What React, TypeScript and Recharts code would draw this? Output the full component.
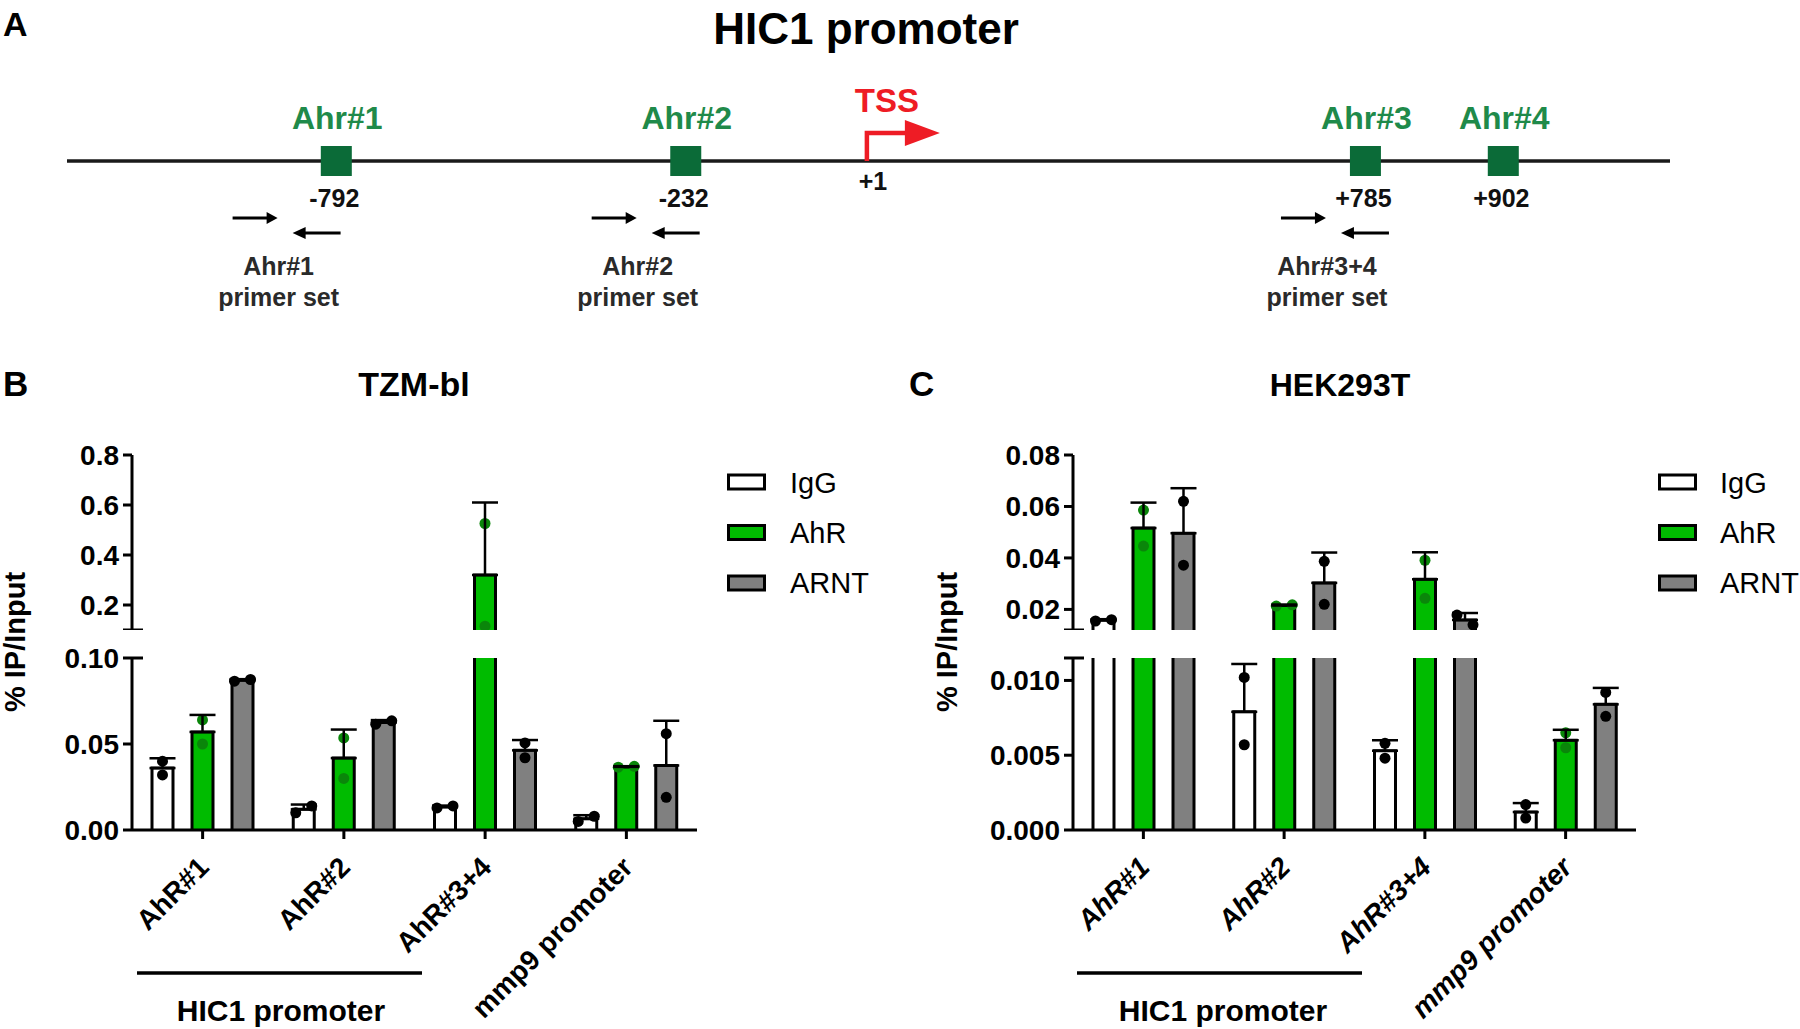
import React from 'react';
import {
  BarChart,
  Bar,
  XAxis,
  YAxis,
  ErrorBar,
  ScatterChart,
  Scatter,
  ReferenceLine,
} from 'recharts';

// ---------- panel A : HIC1 promoter map ----------
const siteNames = ['Ahr#1', 'Ahr#2', 'Ahr#3', 'Ahr#4'];
const siteLabels = ['-792', '-232', '+785', '+902'];
// where each element sits along the drawn line (line runs 0..1000, drawing is not to scale)
const siteTrack = [168, 386, 810, 896];
const tssTrack = [499];
const primerNames = ['Ahr#1', 'Ahr#2', 'Ahr#3+4'];
const primerTrack = [132, 356, 786];

// ---------- panels B / C : ChIP-qPCR ----------
const categories = ['AhR#1', 'AhR#2', 'AhR#3+4', 'mmp9 promoter'];
const seriesNames = ['IgG', 'AhR', 'ARNT'];

// TZM-bl (% IP/Input)
const tzmIgGMean = [0.036, 0.012, 0.0134, 0.0065];
const tzmIgGSd = [0.0057, 0.0028, 0.0008, 0.0021];
const tzmIgGRep1 = [0.04, 0.01, 0.0128, 0.005];
const tzmIgGRep2 = [0.032, 0.014, 0.014, 0.008];
const tzmAhRMean = [0.057, 0.0418, 0.32, 0.0367];
const tzmAhRSd = [0.0099, 0.0166, 0.29, 0.0004];
const tzmAhRRep1 = [0.064, 0.0535, 0.526, 0.0365];
const tzmAhRRep2 = [0.05, 0.03, 0.115, 0.037];
const tzmARNTMean = [0.087, 0.0625, 0.0463, 0.0375];
const tzmARNTSd = [0.0007, 0.0014, 0.006, 0.026];
const tzmARNTRep1 = [0.0865, 0.0615, 0.0506, 0.056];
const tzmARNTRep2 = [0.0875, 0.0635, 0.042, 0.019];

// HEK293T (% IP/Input)
const hekIgGMean = [0.0158, 0.0079, 0.0053, 0.0012];
const hekIgGSd = [0.0004, 0.0032, 0.0007, 0.0006];
const hekIgGRep1 = [0.0155, 0.0102, 0.0058, 0.0017];
const hekIgGRep2 = [0.016, 0.0057, 0.0048, 0.0008];
const hekAhRMean = [0.0516, 0.0215, 0.0317, 0.006];
const hekAhRSd = [0.0099, 0.0004, 0.0105, 0.0007];
const hekAhRRep1 = [0.0586, 0.0213, 0.0391, 0.0065];
const hekAhRRep2 = [0.0446, 0.0218, 0.0243, 0.0055];
const hekARNTMean = [0.0496, 0.0303, 0.0159, 0.0084];
const hekARNTSd = [0.0175, 0.0118, 0.0027, 0.0011];
const hekARNTRep1 = [0.062, 0.0387, 0.0178, 0.0092];
const hekARNTRep2 = [0.0372, 0.022, 0.014, 0.0076];

type Series = { mean: number[]; sd: number[]; rep1: number[]; rep2: number[] };

const tzm: Record<string, Series> = {
  IgG: { mean: tzmIgGMean, sd: tzmIgGSd, rep1: tzmIgGRep1, rep2: tzmIgGRep2 },
  AhR: { mean: tzmAhRMean, sd: tzmAhRSd, rep1: tzmAhRRep1, rep2: tzmAhRRep2 },
  ARNT: { mean: tzmARNTMean, sd: tzmARNTSd, rep1: tzmARNTRep1, rep2: tzmARNTRep2 },
};
const hek: Record<string, Series> = {
  IgG: { mean: hekIgGMean, sd: hekIgGSd, rep1: hekIgGRep1, rep2: hekIgGRep2 },
  AhR: { mean: hekAhRMean, sd: hekAhRSd, rep1: hekAhRRep1, rep2: hekAhRRep2 },
  ARNT: { mean: hekARNTMean, sd: hekARNTSd, rep1: hekARNTRep1, rep2: hekARNTRep2 },
};

const FONT = '"Liberation Sans", Arial, Helvetica, sans-serif';
const GREEN = '#00bb00';
const GRAY = '#808080';
const seriesFill: Record<string, string> = { IgG: '#ffffff', AhR: GREEN, ARNT: GRAY };
const dotFill: Record<string, string> = { IgG: '#000000', AhR: '#0a860a', ARNT: '#000000' };

// rows for one segment of a broken axis: values outside the segment are dropped
function buildRows(d: Record<string, Series>, lo: number, hi: number, isTop: boolean) {
  return categories.map((cat, i) => {
    const row: any = { cat };
    seriesNames.forEach((s) => {
      const m = d[s].mean[i];
      const inSeg = isTop ? m > lo : true;
      row[s] = inSeg ? m : null;
      row[`${s}_err`] = inSeg && m <= hi ? [0, d[s].sd[i]] : null;
      const r1 = d[s].rep1[i];
      const r2 = d[s].rep2[i];
      row[`${s}_r1`] = r1 > lo && r1 <= hi ? r1 : isTop || r1 > hi ? null : r1;
      row[`${s}_r2`] = r2 > lo && r2 <= hi ? r2 : isTop || r2 > hi ? null : r2;
    });
    return row;
  });
}

const openBar = (key: string) => (props: any) => {
  const { x, y, width, height, payload } = props;
  if (!payload || payload[key] == null || !isFinite(y) || !(height > 0)) return <g />;
  return (
    <g>
      <rect x={x} y={y} width={width} height={height} fill={seriesFill[key]} />
      <path
        d={`M${x},${y + height}V${y}H${x + width}V${y + height}`}
        fill="none"
        stroke="#000"
        strokeWidth={3}
      />
    </g>
  );
};

const repDot = (s: string, rep: number, ppu: number) => (props: any) => {
  const { x, y, width, payload } = props;
  const v = payload ? payload[`${s}_r${rep}`] : null;
  if (v == null || !isFinite(y)) return <g />;
  const other = payload[`${s}_r${rep === 1 ? 2 : 1}`];
  let dx = 0;
  if (other != null && Math.abs(v - other) * ppu < 11) dx = rep === 1 ? -8 : 8;
  return <circle cx={x + width / 2 + dx} cy={y} r={5.5} fill={dotFill[s]} />;
};

const yTick = (decimals: number, breakVal: number, labelBreak: boolean) => (props: any) => {
  const { x, y, payload } = props;
  const v = payload.value as number;
  const axisX = x + 13;
  const isBreak = Math.abs(v - breakVal) < 1e-9;
  return (
    <g>
      <line x1={axisX - 9} x2={isBreak ? axisX + 11 : axisX} y1={y} y2={y} stroke="#000" strokeWidth={3} />
      {(!isBreak || labelBreak) && (
        <text x={x} y={y + 10} textAnchor="end" fontSize={28} fontWeight="bold" fill="#000" fontFamily={FONT}>
          {v.toFixed(decimals)}
        </text>
      )}
    </g>
  );
};

const catTick = (italic: boolean) => (props: any) => {
  const { x, y, payload } = props;
  return (
    <text
      transform={`translate(${x + 8},${y + 28}) rotate(-45)`}
      textAnchor="end"
      fontSize={28}
      fontWeight="bold"
      fontStyle={italic ? 'italic' : 'normal'}
      fill="#000"
      fontFamily={FONT}
    >
      {payload.value}
    </text>
  );
};

const Y_W = 100;
const M_TOP = 15;

interface HalfProps {
  d: Record<string, Series>;
  domain: [number, number];
  ticks: number[];
  decimals: number;
  isTop: boolean;
  plotLeft: number;
  plotWidth: number;
  plotTop: number;
  plotHeight: number;
  italic?: boolean;
}

const HalfChart: React.FC<HalfProps> = ({
  d,
  domain,
  ticks,
  decimals,
  isTop,
  plotLeft,
  plotWidth,
  plotTop,
  plotHeight,
  italic = false,
}) => {
  const rows = buildRows(d, domain[0], domain[1], isTop);
  const ppu = plotHeight / (domain[1] - domain[0]);
  const xHeight = isTop ? 0 : 200;
  const breakVal = isTop ? domain[0] : domain[1];
  const labelBreak = !isTop && ticks.filter((t) => t === domain[1]).length > 0 && decimals === 2;
  return (
    <div style={{ position: 'absolute', left: plotLeft - Y_W, top: plotTop - M_TOP }}>
      <BarChart
        width={Y_W + plotWidth + 20}
        height={M_TOP + plotHeight + xHeight}
        data={rows}
        margin={{ top: M_TOP, right: 20, bottom: 0, left: 0 }}
        barSize={21}
        barGap={19}
      >
        <XAxis
          xAxisId="main"
          dataKey="cat"
          hide={isTop}
          height={xHeight}
          interval={0}
          tickSize={9}
          tickMargin={2}
          tickLine={{ stroke: '#000', strokeWidth: 3 }}
          axisLine={{ stroke: '#000', strokeWidth: 3 }}
          tick={catTick(italic)}
        />
        <XAxis xAxisId="r1" dataKey="cat" hide />
        <XAxis xAxisId="r2" dataKey="cat" hide />
        <YAxis
          type="number"
          domain={domain}
          allowDataOverflow
          ticks={ticks}
          interval={0}
          width={Y_W}
          tickSize={9}
          tickMargin={4}
          tickLine={false}
          axisLine={{ stroke: '#000', strokeWidth: 3 }}
          tick={yTick(decimals, breakVal, labelBreak)}
        />
        {seriesNames.map((s) => (
          <Bar key={s} xAxisId="main" dataKey={s} isAnimationActive={false} shape={openBar(s)}>
            <ErrorBar dataKey={`${s}_err`} width={13} strokeWidth={2.5} stroke="#000" direction="y" />
          </Bar>
        ))}
        {seriesNames.map((s) => (
          <Bar key={`${s}r1`} xAxisId="r1" dataKey={`${s}_r1`} isAnimationActive={false} shape={repDot(s, 1, ppu)} />
        ))}
        {seriesNames.map((s) => (
          <Bar key={`${s}r2`} xAxisId="r2" dataKey={`${s}_r2`} isAnimationActive={false} shape={repDot(s, 2, ppu)} />
        ))}
      </BarChart>
    </div>
  );
};

// ---------- panel A shapes ----------
const siteData = siteNames.map((name, i) => ({ track: siteTrack[i], row: 0, name, label: siteLabels[i] }));
const tssData = tssTrack.map((t) => ({ track: t, row: 0 }));
const primerData = primerNames.map((name, i) => ({ track: primerTrack[i], row: 0, name }));

const SiteShape = (props: any) => {
  const { cx, cy, payload } = props;
  return (
    <g fontFamily={FONT} fontWeight="bold">
      <rect x={cx - 15.5} y={cy - 15} width={31} height={30} fill="#0b6b38" />
      <text x={cx + 1} y={cy - 32} textAnchor="middle" fontSize={32} fill="#1f8a4a">
        {payload.name}
      </text>
      <text x={cx - 2} y={cy + 46} textAnchor="middle" fontSize={25} fill="#111">
        {payload.label}
      </text>
    </g>
  );
};

const TssShape = (props: any) => {
  const { cx, cy } = props;
  return (
    <g fontFamily={FONT} fontWeight="bold">
      <path d={`M${cx},${cy}V${cy - 28}H${cx + 40}`} fill="none" stroke="#ee1c25" strokeWidth={4.5} />
      <polygon points={`${cx + 38},${cy - 41} ${cx + 73},${cy - 28} ${cx + 38},${cy - 15}`} fill="#ee1c25" />
      <text x={cx + 20} y={cy - 49} textAnchor="middle" fontSize={33} fill="#ee1c25">
        TSS
      </text>
      <text x={cx + 6} y={cy + 29} textAnchor="middle" fontSize={25} fill="#111">
        +1
      </text>
    </g>
  );
};

const PrimerShape = (props: any) => {
  const { cx, cy, payload } = props;
  const fy = cy + 57;
  const ry = cy + 72;
  return (
    <g fontFamily={FONT} fontWeight="bold">
      <line x1={cx - 46} x2={cx - 10} y1={fy} y2={fy} stroke="#000" strokeWidth={3} />
      <polygon points={`${cx - 12},${fy - 6} ${cx - 1},${fy} ${cx - 12},${fy + 6}`} fill="#000" />
      <line x1={cx + 62} x2={cx + 25} y1={ry} y2={ry} stroke="#000" strokeWidth={3} />
      <polygon points={`${cx + 27},${ry - 6} ${cx + 14},${ry} ${cx + 27},${ry + 6}`} fill="#000" />
      <text x={cx} y={cy + 114} textAnchor="middle" fontSize={25} fill="#2a2a2a">
        {payload.name}
      </text>
      <text x={cx} y={cy + 145} textAnchor="middle" fontSize={25} fill="#2a2a2a">
        primer set
      </text>
    </g>
  );
};

const PromoterMap: React.FC = () => (
  <div style={{ position: 'absolute', left: 0, top: 0 }}>
    <ScatterChart width={1800} height={322} margin={{ top: 0, right: 130, bottom: 0, left: 67 }}>
      <XAxis type="number" dataKey="track" domain={[0, 1000]} hide />
      <YAxis type="number" dataKey="row" domain={[-1, 1]} hide width={0} />
      <ReferenceLine y={0} stroke="#1a1a1a" strokeWidth={3.5} />
      <Scatter data={primerData} isAnimationActive={false} shape={PrimerShape} />
      <Scatter data={tssData} isAnimationActive={false} shape={TssShape} />
      <Scatter data={siteData} isAnimationActive={false} shape={SiteShape} />
    </ScatterChart>
  </div>
);

const Legend: React.FC<{ boxX: number; textX: number }> = ({ boxX, textX }) => (
  <g fontFamily={FONT}>
    {seriesNames.map((s, i) => (
      <g key={s}>
        <rect x={boxX} y={475 + i * 50.5} width={36} height={14} fill={seriesFill[s]} stroke="#000" strokeWidth={3} />
        <text x={textX} y={493 + i * 50} fontSize={29} fill="#000">
          {s}
        </text>
      </g>
    ))}
  </g>
);

const App: React.FC = () => {
  return (
    <div style={{ position: 'relative', width: 1800, height: 1029, background: '#fff', fontFamily: FONT, overflow: 'hidden' }}>
      <style>{'body{margin:0;background:#fff}'}</style>
      <PromoterMap />

      <HalfChart d={tzm} domain={[0.1, 0.8]} ticks={[0.1, 0.2, 0.4, 0.6, 0.8]} decimals={1} isTop plotLeft={132} plotWidth={565} plotTop={455} plotHeight={175} />
      <HalfChart d={tzm} domain={[0, 0.1]} ticks={[0, 0.05, 0.1]} decimals={2} isTop={false} plotLeft={132} plotWidth={565} plotTop={658} plotHeight={172} />

      <HalfChart d={hek} domain={[0.012, 0.08]} ticks={[0.012, 0.02, 0.04, 0.06, 0.08]} decimals={2} isTop plotLeft={1073} plotWidth={563} plotTop={455} plotHeight={175} />
      <HalfChart d={hek} domain={[0, 0.0115]} ticks={[0, 0.005, 0.01, 0.0115]} decimals={3} isTop={false} plotLeft={1073} plotWidth={563} plotTop={658} plotHeight={172} italic />

      <svg width={1800} height={1029} style={{ position: 'absolute', left: 0, top: 0, pointerEvents: 'none' }}>
        <g fontFamily={FONT} fontWeight="bold" fill="#000">
          <text x={3} y={36} fontSize={34}>A</text>
          <text x={866} y={44} fontSize={44} textAnchor="middle">HIC1 promoter</text>
          <text x={3} y={396} fontSize={35}>B</text>
          <text x={909} y={396} fontSize={35}>C</text>
          <text x={414} y={396} fontSize={34} textAnchor="middle">TZM-bl</text>
          <text x={1340} y={396} fontSize={32} textAnchor="middle">HEK293T</text>
          <text transform="translate(25,642) rotate(-90)" fontSize={29} textAnchor="middle">% IP/Input</text>
          <text transform="translate(957,642) rotate(-90)" fontSize={29} textAnchor="middle">% IP/Input</text>
          <line x1={137} x2={422} y1={973} y2={973} stroke="#000" strokeWidth={3.5} />
          <text x={281} y={1021} fontSize={30} textAnchor="middle">HIC1 promoter</text>
          <line x1={1077} x2={1362} y1={973} y2={973} stroke="#000" strokeWidth={3.5} />
          <text x={1223} y={1021} fontSize={30} textAnchor="middle">HIC1 promoter</text>
        </g>
        <Legend boxX={728.5} textX={790} />
        <Legend boxX={1659.5} textX={1720} />
      </svg>
    </div>
  );
};

export default App;
